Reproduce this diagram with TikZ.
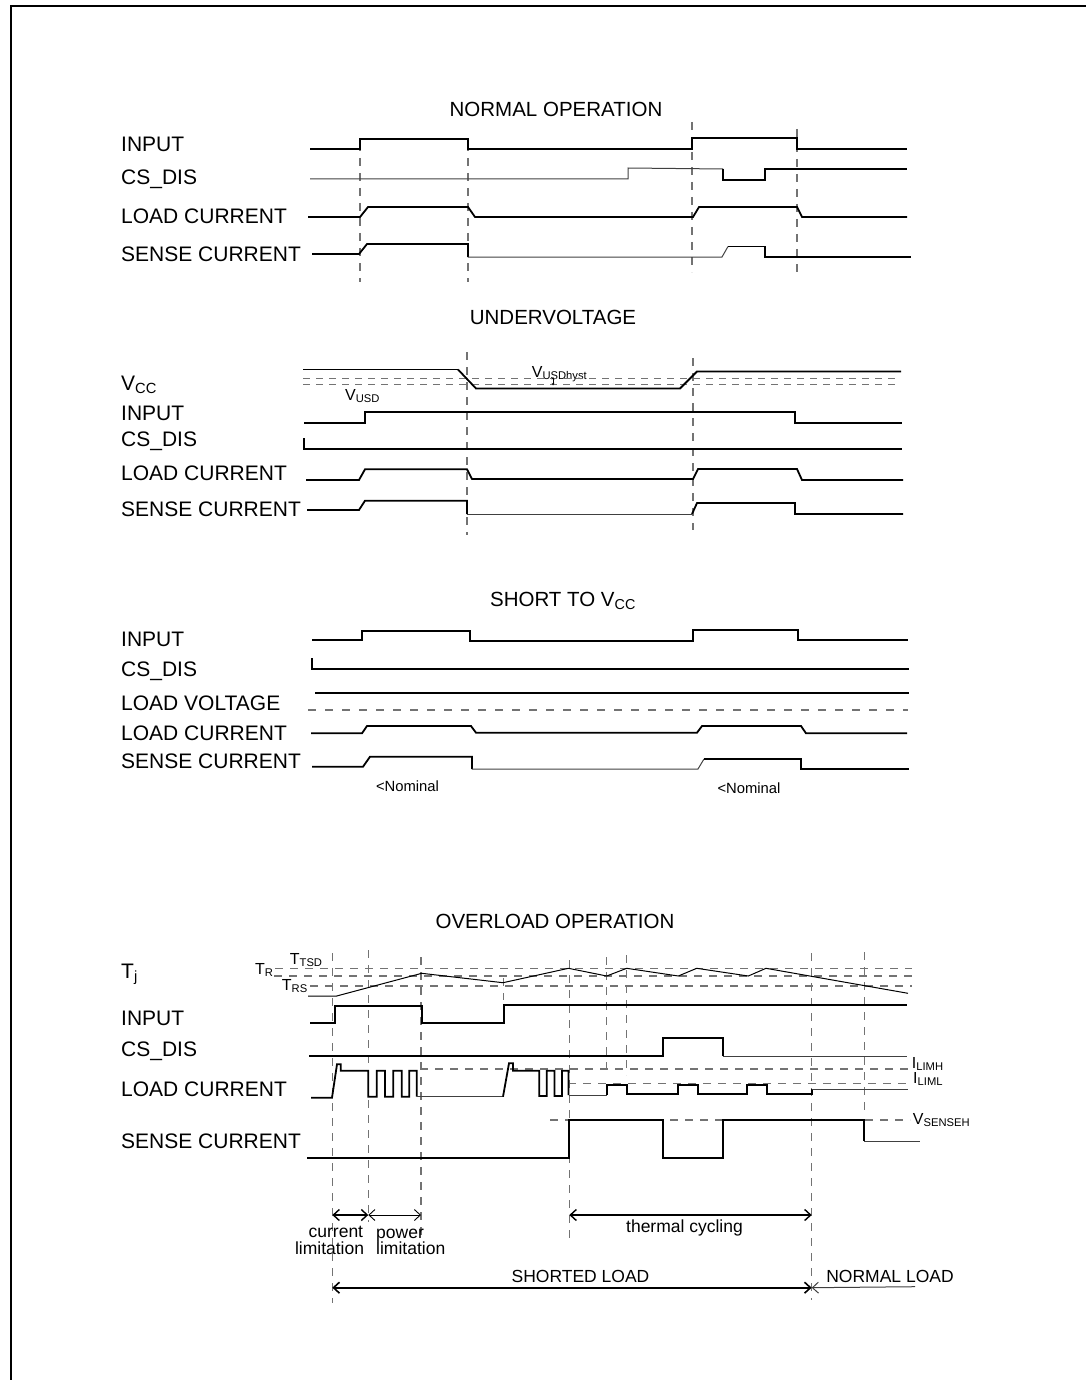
\documentclass[tikz,border=0pt]{standalone}
\usepackage{fontspec}
\setmainfont{Liberation Sans}
\usetikzlibrary{arrows.meta}
\newcommand{\lblsize}{\fontsize{21}{24}\selectfont}
\newcommand{\ttlsize}{\fontsize{20.5}{24}\selectfont}
\newcommand{\medsize}{\fontsize{17.5}{20}\selectfont}
\newcommand{\smlsize}{\fontsize{16}{18}\selectfont}
\newcommand{\nomsize}{\fontsize{14.8}{18}\selectfont}

\begin{document}
\begin{tikzpicture}[x=1pt, y=-1pt,
  sig/.style={line width=1.8pt, line join=miter},
  weak/.style={line width=1pt, black!75},
  guide/.style={line width=1.1pt, black!55, dash pattern=on 8pt off 7pt},
  lbl/.style={anchor=base west, inner sep=0pt, font=\lblsize},
  ttl/.style={anchor=base, inner sep=0pt, font=\ttlsize},
  tag/.style={anchor=base west, inner sep=0pt, font=\smlsize},
  note/.style={anchor=base, inner sep=0pt, font=\medsize},
  barb/.style={{Straight Barb[length=6pt,width=11pt]}-{Straight Barb[length=6pt,width=11pt]}}]

  \useasboundingbox (0,0) rectangle (1085,1380);
  \draw[line width=2pt] (1095,6) -- (11,6) -- (11,1395);

  % Normal operation

  \node[ttl] (t1) at (556,116.7) {NORMAL OPERATION};
  \node[lbl] (a1) at (121,151.7) {INPUT};
  \node[lbl] (a2) at (121,185) {CS\_DIS};
  \node[lbl] (a3) at (121,223.3) {LOAD CURRENT};
  \node[lbl] (a4) at (121,261.7) {SENSE CURRENT};

  \draw[guide] (360,143) -- (360,282);
  \draw[guide] (468,143) -- (468,282);
  \draw[guide] (692,122) -- (692,272);
  \draw[guide] (797,129) -- (797,274);

  \draw[sig] (310,149) -- (360,149) -- (360,139) -- (468,139) -- (468,149)
    -- (692,149) -- (692,138) -- (797,138) -- (797,149) -- (907,149);

  \draw[weak] (310,179) -- (628,179) -- (628,168) -- (723,169);
  \draw[sig] (723,169) -- (723,180) -- (765,180) -- (765,169) -- (907,169);

  \draw[sig] (308,217) -- (360,217) -- (368,207) -- (468,207) -- (475,217)
    -- (693,217) -- (699,207) -- (797,207) -- (802,217) -- (907,217);

  \draw[sig] (312,254) -- (359,254) -- (367,244) -- (468,244) -- (468,257);
  \draw[weak] (468,257) -- (722,257) -- (728,246.5);
  \draw[sig] (728,246.5) -- (765,246.5) -- (765,257) -- (911,257);

  % Undervoltage

  \node[ttl] (t2) at (553,324) {UNDERVOLTAGE};
  \node[lbl] (b0) at (121,390) {V\textsubscript{CC}};
  \node[lbl] (b1) at (121,420) {INPUT};
  \node[lbl] (b2) at (121,446.7) {CS\_DIS};
  \node[lbl] (b3) at (121,480) {LOAD CURRENT};
  \node[lbl] (b4) at (121,516.7) {SENSE CURRENT};
  \node[tag] (vusd) at (345,400) {V\textsubscript{USD}};
  \node[tag] (vhys) at (531.7,377.3) {V\textsubscript{USDhyst}};

  \draw[guide, dash pattern=on 7pt off 6pt] (303,378.3) -- (901,378.3);
  \draw[guide, dash pattern=on 7pt off 6pt] (303,384.3) -- (901,384.3);
  \draw[line width=0.6pt, {Stealth[length=2.5pt,width=2.5pt]}-{Stealth[length=2.5pt,width=2.5pt]}]
    (553,377) -- (553,385.5);

  \draw[guide] (467,352) -- (467,535);
  \draw[guide] (693,358) -- (693,530);

  \draw[line width=1.2pt] (303,369.5) -- (458,369.5);
  \draw[sig] (458,369.5) -- (476,388.5) -- (680,388.5) -- (697,371.5) -- (901,371.5);

  \draw[sig] (304,422.7) -- (365,422.7) -- (365,412) -- (795,412) -- (795,422.7) -- (902,422.7);

  \draw[sig] (304,438) -- (304,449) -- (902,449);

  \draw[sig] (306,480) -- (359,480) -- (365,469.3) -- (467,469.3) -- (472,479)
    -- (693,479) -- (698,469) -- (797,469) -- (802,480) -- (903,480);

  \draw[sig] (307,510) -- (359,510) -- (365,500.7) -- (467,500.7) -- (467,514);
  \draw[weak] (467,514) -- (692,514);
  \draw[sig] (692,514) -- (697,503) -- (795,503) -- (795,514) -- (903,514);

  % Short to Vcc

  \node[ttl] (t3) at (563,606.7) {SHORT TO V\textsubscript{CC}};
  \node[lbl] (c1) at (121,646.7) {INPUT};
  \node[lbl] (c2) at (121,676.7) {CS\_DIS};
  \node[lbl] (c3) at (121,710) {LOAD VOLTAGE};
  \node[lbl] (c4) at (121,740) {LOAD CURRENT};
  \node[lbl] (c5) at (121,768.3) {SENSE CURRENT};
  \node[anchor=base, inner sep=0pt, font=\nomsize] (nom1) at (407.5,791.7) {<Nominal};
  \node[anchor=base, inner sep=0pt, font=\nomsize] (nom2) at (749,793.3) {<Nominal};

  \draw[sig] (312,640) -- (362,640) -- (362,630.7) -- (470,630.7) -- (470,641)
    -- (693,641) -- (693,630) -- (798,630) -- (798,640) -- (908,640);

  \draw[sig] (312,658) -- (312,669.3) -- (909,669.3);

  \draw[sig] (315,692.7) -- (909,692.7);
  \draw[guide, dash pattern=on 8pt off 9pt] (308,710) -- (908,710);

  \draw[sig] (311,733.3) -- (362,733.3) -- (367,726) -- (471,726) -- (476,732.7)
    -- (697,732.7) -- (702,726) -- (801,726) -- (806,733.3) -- (907,733.3);

  \draw[sig] (312,766.7) -- (363,766.7) -- (370,756.7) -- (472,756.7) -- (472,769);
  \draw[weak] (472,769) -- (698,769) -- (704,759);
  \draw[sig] (704,759) -- (801,759) -- (801,769) -- (909,769);

  % Overload operation

  \node[ttl] (t4) at (555,928.3) {OVERLOAD OPERATION};
  \node[lbl] (d0) at (121,978.3) {T\textsubscript{j}};
  \node[lbl] (d1) at (121,1025) {INPUT};
  \node[lbl] (d2) at (121,1056.7) {CS\_DIS};
  \node[lbl] (d3) at (121,1096.7) {LOAD CURRENT};
  \node[lbl] (d4) at (121,1148.3) {SENSE CURRENT};
  \node[tag] (tr) at (255,974) {T\textsubscript{R}};
  \node[tag] (ttsd) at (289.7,964.3) {T\textsubscript{TSD}};
  \node[tag] (trs) at (281.7,990) {T\textsubscript{RS}};
  \node[tag] (ilimh) at (911.7,1068.3) {I\textsubscript{LIMH}};
  \node[tag] (ilIml) at (913,1083.3) {I\textsubscript{LIML}};
  \node[tag] (vsen) at (912.7,1124.3) {V\textsubscript{SENSEH}};

  \draw[guide] (275,968.3) -- (912,968.3);
  \draw[guide] (274,976) -- (912,976);
  \draw[guide] (310,986) -- (912,986);
  \draw[guide] (420,1069) -- (908,1069);
  \draw[guide] (568,1083.3) -- (908,1083.3);
  \draw[guide] (550,1120) -- (910,1120);

  \draw[guide] (332.3,953) -- (332.3,1303);
  \draw[guide] (368.3,950) -- (368.3,1222);
  \draw[guide] (421,957) -- (421,1238);
  \draw[guide] (503.3,978) -- (503.3,1000);
  \draw[guide] (569.3,960) -- (569.3,1243);
  \draw[guide] (606.7,957) -- (606.7,1075);
  \draw[guide] (626.7,955) -- (626.7,1075);
  \draw[guide] (811.7,953) -- (811.7,1300);
  \draw[guide] (864.3,952) -- (864.3,1113);

  \draw[line width=1pt] (308,996) -- (336.7,996) -- (421.7,973.3) -- (503,982.7)
    -- (568.5,968.3) -- (606.7,976) -- (626.7,968.3) -- (678.3,976) -- (696.7,968.3)
    -- (748.3,976) -- (766,968.3) -- (908,993.3);

  \draw[sig] (310,1023.3) -- (335,1023.3) -- (335,1005.7) -- (421.7,1005.7) -- (421.7,1022.7)
    -- (504,1022.7) -- (504,1005) -- (907,1005);

  \draw[sig] (309,1055.7) -- (663,1055.7) -- (663,1037.7) -- (722.7,1037.7) -- (722.7,1056);
  \draw[weak] (722.7,1056) -- (907,1056);

  \draw[sig] (311,1097.7) -- (332,1097.7) -- (337,1064.3) -- (340.7,1064.3) -- (340.7,1070.7)
    -- (368.3,1070.7) -- (368.3,1096.7) -- (376.7,1096.7) -- (376.7,1070.7)
    -- (385,1070.7) -- (385,1096.7) -- (393.3,1096.7) -- (393.3,1070.7)
    -- (401.7,1070.7) -- (401.7,1096.7) -- (409.3,1096.7) -- (409.3,1070.7)
    -- (416.7,1070.7) -- (416.7,1096.7);
  \draw[weak] (416.7,1096.7) -- (503,1096.7);
  \draw[sig] (503,1096.7) -- (509,1063.3) -- (513,1063.3) -- (513,1070.7) -- (539.3,1070.7)
    -- (539.3,1096) -- (546.7,1096) -- (546.7,1070.7) -- (554.5,1070.7) -- (554.5,1096)
    -- (562,1096) -- (562,1070.7) -- (568.5,1070.7) -- (568.5,1095);
  \draw[weak] (568.5,1095) -- (606.7,1095);
  \draw[sig] (606.7,1095) -- (606.7,1085) -- (626.7,1085) -- (626.7,1094.3) -- (678.3,1094.3)
    -- (678.3,1085) -- (698.3,1085) -- (698.3,1094.3) -- (746.7,1094.3) -- (746.7,1085)
    -- (766.7,1085) -- (766.7,1094.3) -- (811.7,1094.3) -- (811.7,1089);
  \draw[weak] (811.7,1089) -- (908,1089);

  \draw[sig] (307,1157.7) -- (569.3,1157.7) -- (569.3,1120) -- (662.7,1120) -- (662.7,1157.7)
    -- (722.7,1157.7) -- (722.7,1120) -- (864.3,1120) -- (864.3,1141);
  \draw[weak] (864.3,1141) -- (920,1141);

  % Intervals

  \coordinate (p1) at (332.3,1215);
  \coordinate (p2) at (368.3,1215);
  \coordinate (p3) at (421,1215);
  \coordinate (p4) at (569.3,1215);
  \coordinate (p5) at (811.7,1215);
  \coordinate (q1) at (332.3,1287.7);
  \coordinate (q2) at (811.7,1287.7);
  \coordinate (q3) at (915,1286.7);

  \draw[barb, line width=1.4pt] (p1) -- (p2);
  \draw[barb, line width=0.9pt] (p2) -- (p3);
  \draw[barb, line width=1.4pt] (p4) -- (p5);
  \draw[barb, line width=1.6pt] (q1) -- (q2);
  \draw[{Straight Barb[length=6pt,width=11pt]}-, weak] (q2) -- (q3);

  \node[note, anchor=base east] (cur1) at (363.3,1237.3) {current};
  \node[note, anchor=base east] (cur2) at (364.3,1254) {limitation};
  \node[note, anchor=base west] (pow1) at (376,1238) {power};
  \node[note, anchor=base west] (pow2) at (376,1254.7) {limitation};
  \node[note] (therm) at (684.5,1232.7) {thermal cycling};
  \node[note] (short) at (580.5,1282.3) {SHORTED LOAD};
  \node[note] (norm) at (890,1282.3) {NORMAL LOAD};

\end{tikzpicture}
\end{document}
